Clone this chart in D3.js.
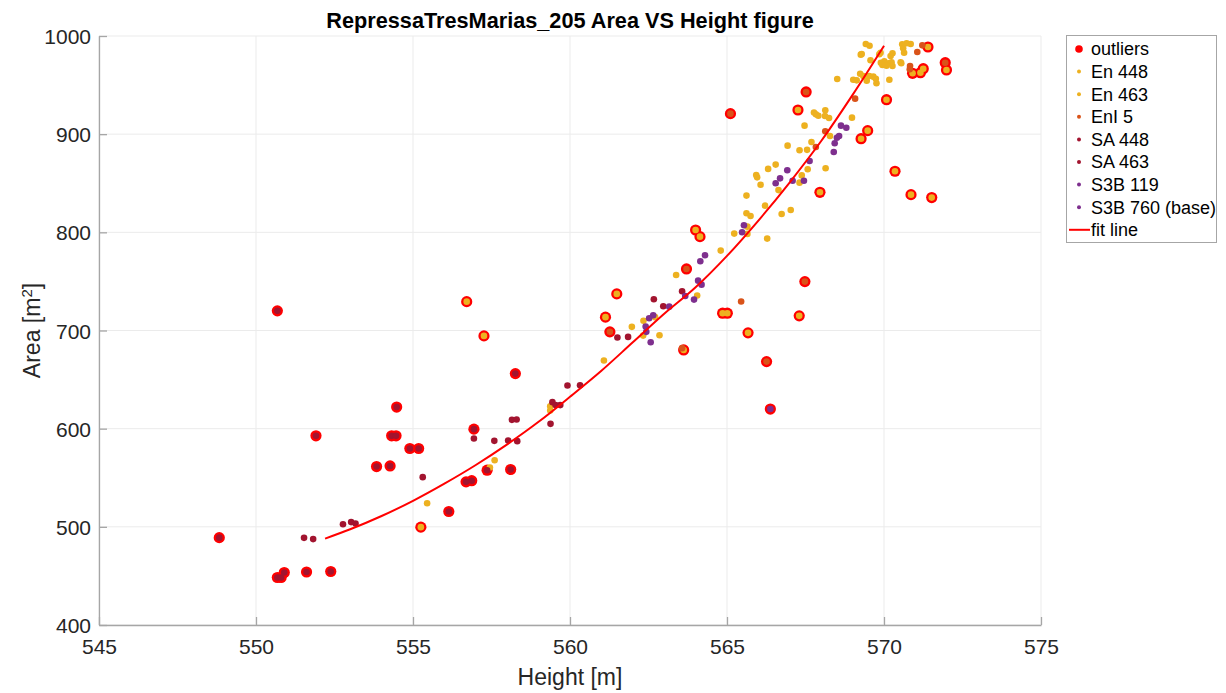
<!DOCTYPE html>
<html><head><meta charset="utf-8">
<script src="https://cdn.jsdelivr.net/npm/d3@7"></script>
<style>
html,body{margin:0;padding:0;background:#fff;}
svg{display:block;font-family:"Liberation Sans",Arial,Helvetica,sans-serif;}
</style></head>
<body>
<svg id="chart" width="1226" height="693"></svg>
<script>
// ---- data (Height [m], Area [m^2]) ----
const titleText = "RepressaTresMarias_205 Area VS Height figure";
const xTicks = [545, 550, 555, 560, 565, 570, 575];
const yTicks = [400, 500, 600, 700, 800, 900, 1000];

const outliers = [
  [548.83,489],[550.68,720],[550.68,448.4],[550.80,448.4],[550.90,453.5],[551.61,454],[552.38,454.5],
  [551.91,592.7],[554.48,622],[554.32,592.7],[554.46,592.7],[553.84,561.4],[554.27,562],[554.90,579.8],
  [555.18,579.8],[556.14,515.6],[556.69,545.8],[556.87,547],[556.94,599.5],[557.36,557.7],[558.11,558.4],
  [558.26,656.1],[555.25,499.7],[556.71,729.4],[557.26,694.5],[561.13,713.6],[561.49,737.3],[561.27,698.6],
  [563.62,680.2],[563.71,762.7],[564.00,802.4],[564.14,795.6],[564.86,717.6],[565.01,717.6],[565.67,697.6],
  [566.26,668.3],[566.38,620],[567.30,714.9],[567.48,749.8],[565.11,920.9],[567.52,943],[567.26,924.6],
  [567.96,840.8],[569.27,895.4],[569.48,903.6],[570.08,935.1],[570.35,862.2],[570.86,838.4],[571.52,835.4],
  [571.40,988.8],[571.95,972.8],[571.99,965.4],[571.25,966.7],[571.16,962.6],[570.91,962]
];

const en448 = [
  [555.45,524],[557.60,567.9],[557.45,560.4],[559.37,622.9],[559.37,618.4],[561.08,669.4],[561.97,703.7],
  [562.34,710],[562.71,713.6],[562.33,694.8],[562.85,695.2],[563.38,756.6],[564.05,735.6],[564.80,781.4],
  [565.23,798.7],[565.65,805.8],[565.65,798.4],[565.62,837.4],[565.62,819.4],[565.75,816.7],[565.93,858.4],
  [565.96,856],[566.07,848.5],[566.21,827.2],[566.28,793.6],[566.31,864.6],[566.55,869],[566.64,843],
  [566.74,818.7],[567.03,822.8],[566.93,888.3],[567.31,883.6],[567.55,884],[567.69,892],[567.38,858],
  [567.31,850.6],[567.57,864.3],[568.14,865.3],[567.47,908.7],[568.28,898.2],[568.98,916.8],[568.13,924.3],
  [568.25,916.5],[568.12,918.5],[567.83,920.2],[567.91,918.8],[567.77,922]
];
const en463 = [
  [568.51,956.2],[569.02,955.5],[569.13,954.8],[569.24,961.6],[569.34,959.3],[569.45,954.5],[569.53,959.3],
  [569.66,958.6],[569.76,951.8],[569.74,956.5],[570.17,955.5],[569.42,991.9],[569.54,990.1],[569.29,981.7],
  [570.58,991.5],[570.72,992.6],[570.85,991.9],[570.61,987.5],[570.64,983],[569.89,983],[569.85,981.4],
  [570.27,982.4],[570.21,979.6],[569.57,975.3],[569.90,972.8],[570.01,974.2],[570.14,972.1],[570.24,973.2],
  [569.95,970.5],[570.08,969.8],[570.27,969.5],[570.53,973.2],[570.55,972.2],[569.26,981],
  [555.25,499.7],[556.71,729.4],[557.26,694.5],[561.13,713.6],[561.49,737.3],[563.62,680.2],[564.00,802.4],
  [564.14,795.6],[564.86,717.6],[565.01,717.6],[565.67,697.6],[567.26,924.6],[567.96,840.8],[569.27,895.4],
  [569.48,903.6],[567.30,714.9],[570.08,935.1],[570.35,862.2],[570.86,838.4],[571.52,835.4],[571.40,988.8],
  [571.99,965.4],[571.25,966.7],[571.16,962.6],[570.91,962]
];
const enl5 = [
  [561.27,698.6],[563.71,762.7],[566.26,668.3],[565.11,920.9],[567.52,943],[571.95,972.8],[567.48,749.8],
  [563.57,682],[565.45,729.5],[568.13,903],[567.83,887],[569.08,936.2],[571.22,990.5],[571.06,983.7],
  [570.83,969.5],[570.82,966.1]
];
const sa448 = [
  [548.83,489],[550.68,448.4],[550.80,448.4],[550.90,453.5],[551.61,454],[552.38,454.5],[551.91,592.7],
  [554.48,622],[554.32,592.7],[554.46,592.7],[553.84,561.4],[554.27,562],[554.90,579.8],[555.18,579.8],
  [556.14,515.6],[556.69,545.8],[556.87,547],[556.94,599.5],[557.36,557.7],[558.11,558.4],[558.26,656.1],
  [550.68,720]
];
const sa463 = [
  [551.53,488.8],[551.82,487.5],[552.77,502.7],[553.03,504.8],[553.17,503.4],[555.31,550.6],[556.94,590],
  [557.59,587.6],[558.03,587.9],[558.32,587.3],[558.15,609],[558.30,609.3],[559.92,643.9],[560.32,644.3],
  [559.44,627],[559.54,624],[559.69,624],[559.38,604.9],[561.51,692.8],[561.85,693.5],[562.67,731.9],
  [562.97,724.7],[563.57,740]
];
const s3b119 = [
  [566.38,620],[562.52,712.5],[562.65,715.6],[562.41,704],[562.43,698.6],[562.57,688],[563.16,724.3],
  [563.67,735.2],[563.95,731.5],[564.08,750.8],[564.19,746.7],[564.15,770.6],[564.30,776.7]
];
const s3b760 = [
  [565.48,800.1],[565.54,807.2],[566.55,850],[566.69,855],[566.92,863.2],[567.09,852.6],[567.45,852.6],
  [567.63,872.7],[568.40,881.9],[568.43,890.7],[568.50,896.4],[568.57,898.2],[568.63,908.7],[568.80,906.6]
];
const fitH = [552.2,553,554,555,556,557,558,559,560,561,562,563,564,565,566,567,568,569,570];
const fitA = [488,497.5,511,526.5,544,563,584,607,632.5,659,688,717,744,776,812,851,893,940,990];

const seriesNames = ["En 448","En 463","EnI 5","SA 448","SA 463","S3B 119","S3B 760 (base)"];
const seriesColors = ["#EDB120","#EDB120","#D95319","#A2142F","#A2142F","#7E2F8E","#7E2F8E"];
const seriesData = [en448, en463, enl5, sa448, sa463, s3b119, s3b760];

// ---- drawing ----
const svg = d3.select("#chart");
const L = 99, R = 1041, T = 36, B = 625;
const x = d3.scaleLinear().domain([545,575]).range([L,R]);
const y = d3.scaleLinear().domain([400,1000]).range([B,T]);
const tickCol = "#262626", axisCol = "#a6a6a6", gridCol = "#ebebeb";

// grid
const g = svg.append("g");
g.selectAll(".gx").data(xTicks).join("line")
  .attr("x1",d=>x(d)).attr("x2",d=>x(d)).attr("y1",T).attr("y2",B)
  .attr("stroke",gridCol).attr("stroke-width",1);
g.selectAll(".gy").data(yTicks).join("line")
  .attr("x1",L).attr("x2",R).attr("y1",d=>y(d)).attr("y2",d=>y(d))
  .attr("stroke",gridCol).attr("stroke-width",1);

// axes
const fmt = d3.format("d");
const xAxis = d3.axisBottom(x).tickValues(xTicks).tickFormat(fmt).tickSizeInner(-8).tickSizeOuter(0).tickPadding(14);
const yAxis = d3.axisLeft(y).tickValues(yTicks).tickFormat(fmt).tickSizeInner(-8).tickSizeOuter(0).tickPadding(8);
const gx = svg.append("g").attr("transform",`translate(0,${B})`).call(xAxis);
const gy = svg.append("g").attr("transform",`translate(${L},0)`).call(yAxis);
[gx,gy].forEach(a=>{
  a.select(".domain").attr("stroke",axisCol).attr("stroke-width",1.3);
  a.selectAll(".tick line").attr("stroke",axisCol).attr("stroke-width",1.3);
  a.selectAll(".tick text").attr("fill",tickCol).style("font-size","21px")
    .style("font-family",'"Liberation Sans",Arial,sans-serif');
});
gx.selectAll(".tick text").attr("dy","0.71em");
gy.selectAll(".tick text").attr("dy","0.36em");

// outliers
svg.append("g").selectAll("circle").data(outliers).join("circle")
  .attr("cx",d=>x(d[0])).attr("cy",d=>y(d[1])).attr("r",5.6)
  .attr("fill","#FF0000");

// series
seriesData.forEach((arr,i)=>{
  svg.append("g").selectAll("circle").data(arr).join("circle")
    .attr("cx",d=>x(d[0])).attr("cy",d=>y(d[1])).attr("r",3.3)
    .attr("fill",seriesColors[i]);
});

// fit line
const fitPts = fitH.map((h,i)=>[h,fitA[i]]);
svg.append("path").datum(fitPts)
  .attr("d",d3.line().x(d=>x(d[0])).y(d=>y(d[1])).curve(d3.curveMonotoneX))
  .attr("fill","none").attr("stroke","#FF0000").attr("stroke-width",2);

// title & labels
svg.append("text").attr("x",(L+R)/2).attr("y",28).attr("text-anchor","middle")
  .style("font-size","21.7px").style("font-weight","bold").attr("fill","#000").text(titleText);
svg.append("text").attr("x",(L+R)/2).attr("y",685).attr("text-anchor","middle")
  .style("font-size","23px").attr("fill",tickCol).text("Height [m]");
const yl = svg.append("text").attr("transform",`translate(40,${(T+B)/2}) rotate(-90)`)
  .attr("text-anchor","middle").style("font-size","23px").attr("fill",tickCol);
yl.append("tspan").text("Area [m");
yl.append("tspan").attr("baseline-shift","super").style("font-size","15px").text("2");
yl.append("tspan").text("]");

// legend
const lg = svg.append("g");
lg.append("rect").attr("x",1066.5).attr("y",35.5).attr("width",150).attr("height",207)
  .attr("fill","#fff").attr("stroke","#a6a6a6").attr("stroke-width",1);
const legItems = [{name:"outliers",type:"out"}]
  .concat(seriesNames.map((n,i)=>({name:n,type:"dot",color:seriesColors[i]})))
  .concat([{name:"fit line",type:"line"}]);
legItems.forEach((it,i)=>{
  const cy = 49 + i*22.6;
  if(it.type==="out") lg.append("circle").attr("cx",1079).attr("cy",cy).attr("r",3.8).attr("fill","#FF0000");
  else if(it.type==="dot") lg.append("circle").attr("cx",1079).attr("cy",cy).attr("r",2).attr("fill",it.color);
  else lg.append("line").attr("x1",1069).attr("x2",1090).attr("y1",cy).attr("y2",cy).attr("stroke","#FF0000").attr("stroke-width",2);
  lg.append("text").attr("x",1091).attr("y",cy).attr("dy","0.36em").style("font-size","18px").attr("fill","#000").text(it.name);
});
</script>
</body></html>
